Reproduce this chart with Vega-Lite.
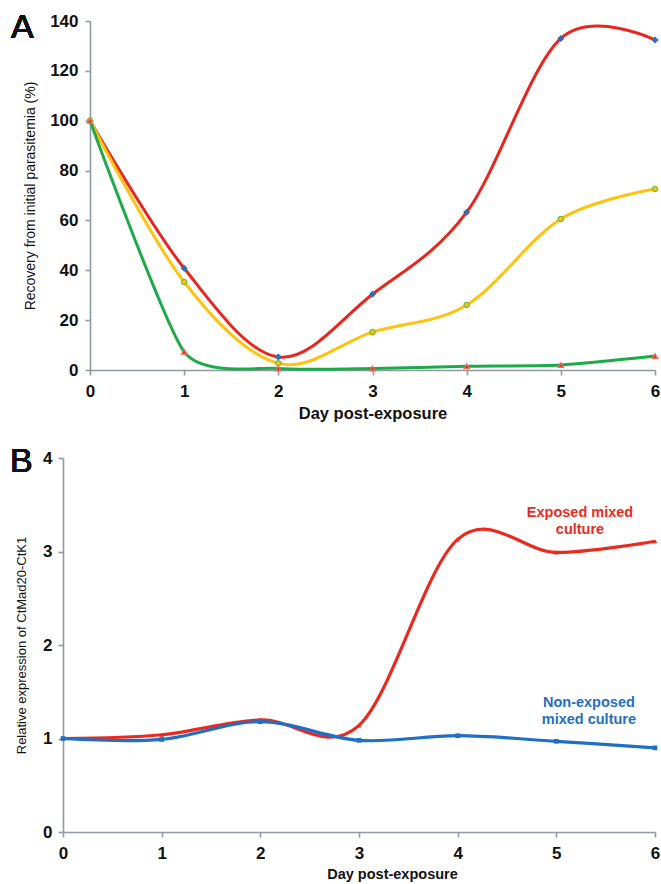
{
  "$schema": "https://vega.github.io/schema/vega-lite/v6.json",
  "background": "white",
  "autosize": {"type": "none"},
  "padding": {"left": 63, "top": 21, "right": 6, "bottom": 52},
  "width": 592,
  "height": 811,
  "config": {
    "view": {"stroke": null},
    "axis": {
      "domainColor": "#8E9BA5",
      "tickColor": "#8E9BA5",
      "domainWidth": 1.6,
      "tickWidth": 1.6,
      "tickSize": 5,
      "grid": false,
      "labelFont": "Liberation Sans",
      "labelFontWeight": "bold",
      "labelFontSize": 17,
      "labelColor": "#111111",
      "titleFont": "Liberation Sans",
      "titleColor": "#111111",
      "labelFlush": false,
      "labelOverlap": false
    }
  },
  "datasets": {
    "recovery": [
      {"day": 0, "series": "Series 1", "recovery": 100},
      {"day": 1, "series": "Series 1", "recovery": 40.8},
      {"day": 2, "series": "Series 1", "recovery": 5.2},
      {"day": 3, "series": "Series 1", "recovery": 30.4},
      {"day": 4, "series": "Series 1", "recovery": 63.3},
      {"day": 5, "series": "Series 1", "recovery": 133},
      {"day": 6, "series": "Series 1", "recovery": 132.4},
      {"day": 0, "series": "Series 2", "recovery": 100},
      {"day": 1, "series": "Series 2", "recovery": 35.3},
      {"day": 2, "series": "Series 2", "recovery": 2.7},
      {"day": 3, "series": "Series 2", "recovery": 15.2},
      {"day": 4, "series": "Series 2", "recovery": 26.1},
      {"day": 5, "series": "Series 2", "recovery": 60.6},
      {"day": 6, "series": "Series 2", "recovery": 72.6},
      {"day": 0, "series": "Series 3", "recovery": 100},
      {"day": 1, "series": "Series 3", "recovery": 7.3},
      {"day": 2, "series": "Series 3", "recovery": 0.6},
      {"day": 3, "series": "Series 3", "recovery": 0.6},
      {"day": 4, "series": "Series 3", "recovery": 1.5},
      {"day": 5, "series": "Series 3", "recovery": 2.0},
      {"day": 6, "series": "Series 3", "recovery": 5.6}
    ],
    "expression": [
      {"day": 0, "culture": "Exposed mixed culture", "expression": 1.0},
      {"day": 1, "culture": "Exposed mixed culture", "expression": 1.04},
      {"day": 2, "culture": "Exposed mixed culture", "expression": 1.2},
      {"day": 3, "culture": "Exposed mixed culture", "expression": 1.14},
      {"day": 4, "culture": "Exposed mixed culture", "expression": 3.13},
      {"day": 5, "culture": "Exposed mixed culture", "expression": 2.99},
      {"day": 6, "culture": "Exposed mixed culture", "expression": 3.11},
      {"day": 0, "culture": "Non-exposed mixed culture", "expression": 1.0},
      {"day": 1, "culture": "Non-exposed mixed culture", "expression": 0.99},
      {"day": 2, "culture": "Non-exposed mixed culture", "expression": 1.18},
      {"day": 3, "culture": "Non-exposed mixed culture", "expression": 0.98},
      {"day": 4, "culture": "Non-exposed mixed culture", "expression": 1.03},
      {"day": 5, "culture": "Non-exposed mixed culture", "expression": 0.97},
      {"day": 6, "culture": "Non-exposed mixed culture", "expression": 0.9}
    ],
    "labels": [
      {"day": 5.24, "culture": "Exposed mixed culture", "expression": 3.41, "label": "Exposed mixed\nculture"},
      {"day": 5.33, "culture": "Non-exposed mixed culture", "expression": 1.38, "label": "Non-exposed\nmixed culture"}
    ]
  },
  "layer": [
    {
      "data": {"name": "recovery"},
      "encoding": {
        "x": {
          "field": "day",
          "type": "quantitative",
          "scale": {"domain": [0, 6], "nice": false, "range": [27, 592]},
          "axis": {
            "orient": "bottom",
            "offset": -462,
            "values": [0, 1, 2, 3, 4, 5, 6],
            "format": "d",
            "labelPadding": 8,
            "title": "Day post-exposure",
            "titleFontSize": 16.5,
            "titleFontWeight": "bold",
            "titlePadding": 6
          }
        },
        "y": {
          "field": "recovery",
          "type": "quantitative",
          "scale": {"domain": [0, 140], "nice": false, "range": [349, 0]},
          "axis": {
            "orient": "left",
            "offset": -27,
            "values": [0, 20, 40, 60, 80, 100, 120, 140],
            "labelPadding": 7,
            "title": "Recovery from initial parasitemia (%)",
            "titleFontSize": 14,
            "titleFontWeight": "normal",
            "titlePadding": 12
          }
        },
        "color": {
          "field": "series",
          "type": "nominal",
          "scale": {"domain": ["Series 1", "Series 2", "Series 3"], "range": ["#E8261E", "#FFC20E", "#1DAB4A"]},
          "legend": null
        }
      },
      "layer": [
        {
          "transform": [{"filter": "datum.series !== 'Series 3'"}],
          "mark": {"type": "line", "interpolate": "cardinal", "strokeWidth": 3},
          "encoding": {}
        },
        {
          "transform": [{"filter": "datum.series === 'Series 3'"}],
          "mark": {"type": "line", "interpolate": "cardinal", "tension": 0.4, "strokeWidth": 3},
          "encoding": {}
        },
        {
          "mark": {"type": "point", "filled": false, "strokeWidth": 1.3, "opacity": 1},
          "encoding": {
            "color": {"value": null},
            "shape": {
              "field": "series",
              "type": "nominal",
              "scale": {"domain": ["Series 1", "Series 2", "Series 3"], "range": ["diamond", "circle", "triangle-up"]},
              "legend": null
            },
            "fill": {
              "field": "series",
              "type": "nominal",
              "scale": {"domain": ["Series 1", "Series 2", "Series 3"], "range": ["#2F6EBA", "#FFC20E", "#E8261E"]},
              "legend": null
            },
            "stroke": {
              "field": "series",
              "type": "nominal",
              "scale": {"domain": ["Series 1", "Series 2", "Series 3"], "range": ["#2F6EBA", "#7DB93A", "#F26A5A"]},
              "legend": null
            },
            "size": {"value": 28}
          }
        },
        {
          "mark": {"type": "text", "text": "A", "align": "left", "baseline": "alphabetic", "font": "Liberation Sans", "fontSize": 34, "fontWeight": "normal"},
          "encoding": {
            "x": {"datum": -0.839},
            "y": {"datum": 133.2},
            "color": {"value": "#111111"}
          }
        }
      ]
    },
    {
      "data": {"name": "expression"},
      "encoding": {
        "x": {
          "field": "day",
          "type": "quantitative",
          "scale": {"domain": [0, 6], "nice": false, "range": [0, 592]},
          "axis": {
            "orient": "bottom",
            "values": [0, 1, 2, 3, 4, 5, 6],
            "format": "d",
            "labelPadding": 8,
            "title": "Day post-exposure",
            "titleFontSize": 14.5,
            "titleFontWeight": "bold",
            "titlePadding": 6,
            "titleX": 329
          }
        },
        "y": {
          "field": "expression",
          "type": "quantitative",
          "scale": {"domain": [0, 4], "nice": false, "range": [811, 437]},
          "axis": {
            "orient": "left",
            "values": [0, 1, 2, 3, 4],
            "labelPadding": 6,
            "title": "Relative expression of CtMad20-CtK1",
            "titleFontSize": 13,
            "titleFontWeight": "normal",
            "titlePadding": 14
          }
        },
        "color": {
          "field": "culture",
          "type": "nominal",
          "scale": {"domain": ["Exposed mixed culture", "Non-exposed mixed culture"], "range": ["#EA2A1F", "#1F6FC4"]},
          "legend": null
        }
      },
      "layer": [
        {
          "mark": {"type": "line", "interpolate": "cardinal", "strokeWidth": 3.2},
          "encoding": {}
        },
        {
          "mark": {"type": "point", "filled": true, "opacity": 1},
          "encoding": {
            "shape": {
              "field": "culture",
              "type": "nominal",
              "scale": {"domain": ["Exposed mixed culture", "Non-exposed mixed culture"], "range": ["triangle-up", "square"]},
              "legend": null
            },
            "size": {"value": 22}
          }
        },
        {
          "data": {"name": "labels"},
          "mark": {
            "type": "text",
            "lineBreak": "\n",
            "lineHeight": 17,
            "align": "center",
            "baseline": "middle",
            "font": "Liberation Sans",
            "fontSize": 14.5,
            "fontWeight": "bold"
          },
          "encoding": {
            "text": {"field": "label", "type": "nominal"}
          }
        },
        {
          "mark": {"type": "text", "text": "B", "align": "left", "baseline": "alphabetic", "font": "Liberation Sans", "fontSize": 34, "fontWeight": "normal"},
          "encoding": {
            "x": {"datum": -0.537},
            "y": {"datum": 3.85},
            "color": {"value": "#111111"}
          }
        }
      ]
    }
  ],
  "resolve": {
    "scale": {"x": "independent", "y": "independent", "color": "independent", "shape": "independent", "fill": "independent", "stroke": "independent"},
    "axis": {"x": "independent", "y": "independent"}
  }
}
